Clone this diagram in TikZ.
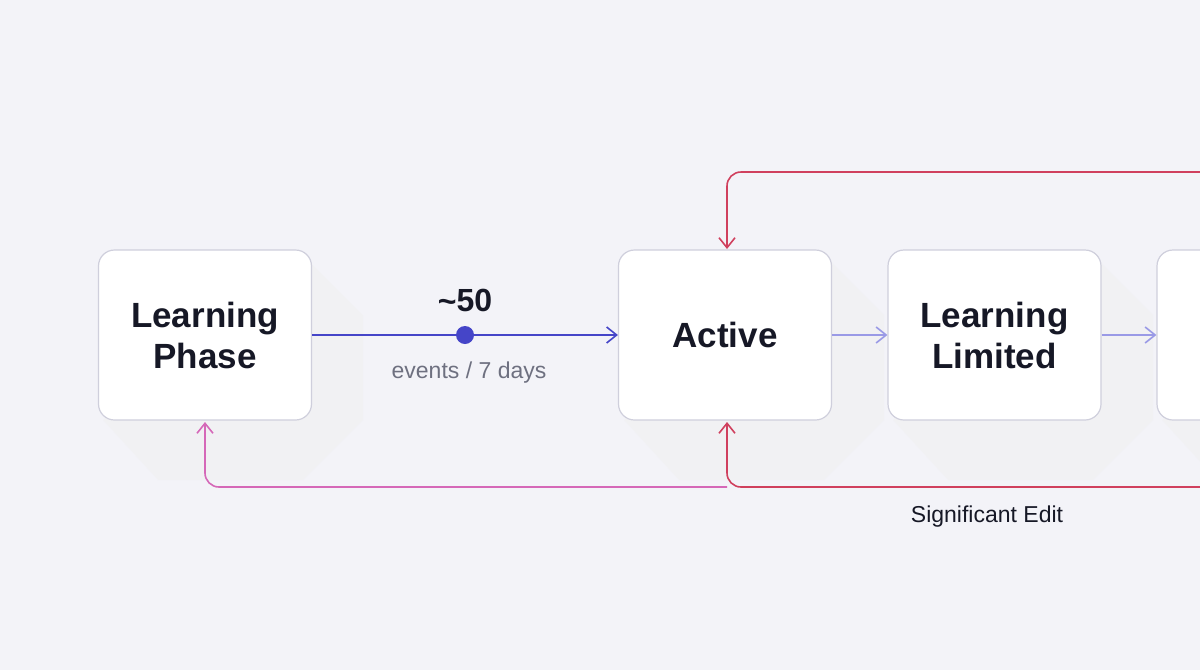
\documentclass[tikz,border=0pt]{standalone}
\usepackage{fontspec}
\setmainfont{Liberation Sans}
\usetikzlibrary{arrows.meta}
\definecolor{bg}{HTML}{F3F3F8}
\definecolor{bord}{HTML}{CFCFDC}
\definecolor{ink}{HTML}{161826}
\definecolor{blu}{HTML}{4545C8}
\definecolor{lblu}{HTML}{9A9AE6}
\definecolor{redc}{HTML}{D0405E}
\definecolor{pink}{HTML}{D568B8}
\definecolor{gr}{HTML}{6E7080}
\begin{document}
\begin{tikzpicture}[x=1pt,y=-1pt,
  box/.style={draw=bord,line width=1.2pt,fill=white,rounded corners=16pt,minimum width=213pt,minimum height=170pt,align=center,font=\fontsize{35}{41}\selectfont\bfseries,text=ink},
  arr/.style={-{Straight Barb[length=10pt,width=16pt]},line width=1.6pt},
  shadow/.style={fill=black!6,opacity=0.5}]
\clip (0,0) rectangle (1200,670);
\fill[bg] (0,0) rectangle (1200,670);
\foreach \x in {98,619,888,1157}{
  \fill[shadow] (\x+205,255) -- (\x+265,315) -- (\x+265,420) -- (\x+205,480) -- (\x+60,480) -- (\x+5,420) -- cycle;
}
\node[box] (lp) at (205,335) {Learning\\Phase};
\node[box] (ac) at (725,335) {Active};
\node[box] (ll) at (994.5,335) {Learning\\Limited};
\node[box] (b4) at (1263.5,335) {};
\draw[arr,blu] (lp.east) -- (ac.west);
\fill[blu] (465,335) circle (9pt);
\node[font=\fontsize{32}{34}\selectfont\bfseries,text=ink] (n50) at (465,301) {\raisebox{-0.05em}{\textasciitilde}50};
\node[font=\fontsize{23}{25}\selectfont,text=gr] (ev) at (469,373) {events / 7 days};
\draw[arr,lblu] (ac.east) -- (ll.west);
\draw[arr,lblu] (ll.east) -- (b4.west);
\coordinate (t1) at (1210,172);
\coordinate (b1) at (1210,487);
\draw[arr,redc,rounded corners=14pt] (t1) -- (727,172) -- (727,249);
\draw[arr,redc,rounded corners=14pt] (b1) -- (727,487) -- (727,422);
\draw[arr,pink,rounded corners=14pt] (727,487) -- (205,487) -- (205,422);
\node[font=\fontsize{23}{25}\selectfont,text=ink] (se) at (987,517) {Significant Edit};
\end{tikzpicture}
\end{document}
